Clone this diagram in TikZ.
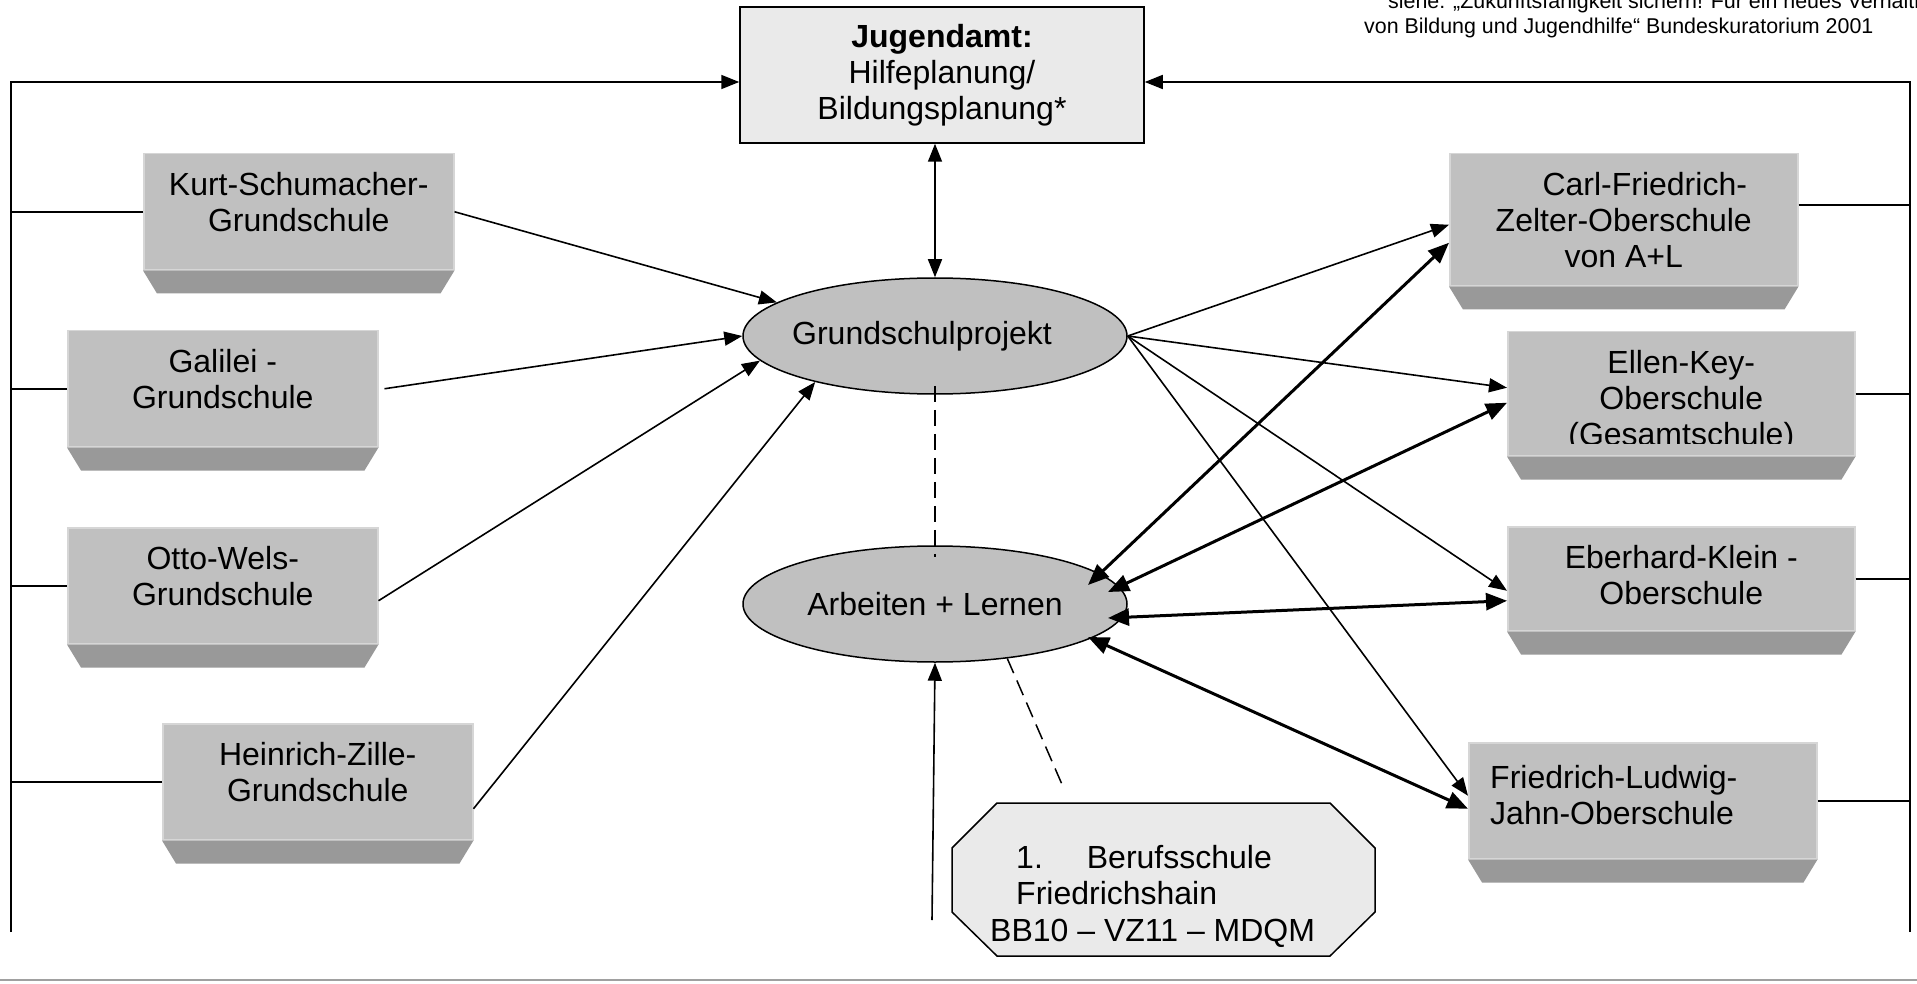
\documentclass[tikz,border=0pt]{standalone}
\usepackage{fontspec}
\setmainfont{Liberation Sans}
\usetikzlibrary{arrows.meta,shapes.geometric}
\definecolor{facegray}{RGB}{192,192,192}
\definecolor{facelight}{RGB}{214,214,214}
\definecolor{bandgray}{RGB}{153,153,153}
\definecolor{boxlight}{RGB}{234,234,234}
\definecolor{trenn}{RGB}{160,160,160}
\begin{document}
\begin{tikzpicture}[x=1pt,y=-1pt,
  face/.style={fill=facegray,draw=facelight,line width=1.5pt,inner sep=0pt},
  schrift/.style={font=\fontsize{32}{36}\selectfont,align=center,inner sep=0pt},
  oval/.style={ellipse,draw,line width=1.5pt,fill=facegray,minimum width=384,minimum height=116,inner sep=0pt,font=\fontsize{32}{36}\selectfont},
  linie/.style={line width=1.6pt},
  pfeil/.style={line width=1.6pt,-{Triangle[length=18pt,width=14pt]}},
  zpfeil/.style={line width=1.6pt,{Triangle[length=18pt,width=14pt]}-{Triangle[length=18pt,width=14pt]}},
  dpfeil/.style={line width=3pt,{Triangle[length=21pt,width=17pt]}-{Triangle[length=21pt,width=17pt]}},
  gestrichelt/.style={line width=1.5pt,dash pattern=on 16pt off 8pt}]
\clip (0,0) rectangle (1917,984);
\fill[white] (0,0) rectangle (1917,984);
% source note
\node[font=\fontsize{21.4}{25}\selectfont,align=left,anchor=north west,inner sep=0pt] (quelle) at (1364,-7)
  {\hspace*{24pt}siehe: „Zukunftsfähigkeit sichern! Für ein neues Verhältnis\\von Bildung und Jugendhilfe“ Bundeskuratorium 2001};
% Jugendamt
\node[schrift,draw,line width=1.5pt,fill=boxlight,minimum width=404,minimum height=136] (ja) at (942,75)
  {\textbf{Jugendamt:}\\Hilfeplanung/\\Bildungsplanung*};
% schools
\foreach \n/\x/\y/\w/\h/\t in {ks/143/153/310/116/{Kurt-Schumacher-\\Grundschule},
    gal/67/330/310/116/{Galilei -\\Grundschule},
    ow/67/527/310/116/{Otto-Wels-\\Grundschule},
    hz/162/723/310/116/{Heinrich-Zille-\\Grundschule},
    cfz/1449/153/348/132/{\hspace*{42pt}Carl-Friedrich-\\Zelter-Oberschule\\von A+L},
    ek/1507/331/347/124/{Ellen-Key-\\Oberschule\\(Gesamtschule)},
    ebk/1507/526/347/104/{Eberhard-Klein -\\Oberschule}}
  {\node[face,minimum width=\w,minimum height=\h,anchor=north west] (\n) at (\x,\y) {};
   \fill[bandgray] (\n.south west) -- (\n.south east) -- ([xshift=-14pt,yshift=-23pt]\n.south east) -- ([xshift=14pt,yshift=-23pt]\n.south west) -- cycle;
   \begin{scope}
     \clip (\n.north west) rectangle ([yshift=13pt]\n.south east);
     \node[schrift,anchor=north] (\n-t) at ([yshift=-19pt]\n.north) {\t};
   \end{scope}}
\node[face,minimum width=348,minimum height=116,anchor=north west] (flj) at (1468,742) {};
\fill[bandgray] (flj.south west) -- (flj.south east) -- ([xshift=-14pt,yshift=-23pt]flj.south east) -- ([xshift=14pt,yshift=-23pt]flj.south west) -- cycle;
\node[schrift,align=left,anchor=north west] (flj-t) at (1490,765) {Friedrich-Ludwig-\\Jahn-Oberschule};
% projects
\node[oval] (gp) at (935,336) {\makebox[0pt]{Grundschulprojekt\hspace*{26pt}}};
\node[oval] (al) at (935,604) {Arbeiten + Lernen};
% Berufsschule
\draw[line width=1.5pt,fill=boxlight] (997,803) -- (1330,803) -- (1375,848) -- (1375,912) -- (1330,956) -- (997,956) -- (952,912) -- (952,848) -- cycle;
\node[schrift,align=left,anchor=north west,font=\fontsize{32}{36.5}\selectfont] (bs) at (1016,845)
  {1.\hspace{44pt}Berufsschule\\Friedrichshain\\\hspace*{-26pt}BB10 – VZ11 – MDQM};
% frame lines
\coordinate (lu) at (11,932);
\coordinate (ru) at (1910,932);
\coordinate (zulauf) at (932,920);
\coordinate (bsoben) at (1064,789);
\draw[pfeil] (lu) |- ([yshift=-7pt]ja.west);
\draw[pfeil] (ru) |- ([yshift=-7pt]ja.east);
\foreach \n in {ks,gal,ow,hz} \draw[linie] (\n.west) -- (\n.west -| lu);
\foreach \n in {ek,ebk,flj} \draw[linie] (\n.east) -- (\n.east -| ru);
\draw[linie] ([yshift=15pt]cfz.east) -- ([yshift=15pt]cfz.east -| ru);
% connectors
\draw[zpfeil] (gp.north) -- (gp.north |- ja.south);
\draw[pfeil] (ks.east) -- (gp.168);
\draw[pfeil] ([xshift=6pt]gal.east) -- (gp.west);
\draw[pfeil] ([yshift=-15pt]ow.east) -- (gp.-172);
\draw[pfeil] ([yshift=-27pt]hz.east) -- (gp.-159);
\draw[pfeil] (gp.east) -- ([yshift=-5pt]cfz.west);
\draw[pfeil] (gp.east) -- ([yshift=6pt]ek.west);
\draw[pfeil] (gp.east) -- ([yshift=-12pt]ebk.west);
\draw[pfeil] (gp.east) -- ([yshift=5pt]flj.west);
\draw[dpfeil] ([xshift=153pt,yshift=19pt]al.center) -- ([yshift=-23pt]cfz.west);
\draw[dpfeil] ([xshift=173pt,yshift=12pt]al.center) -- ([yshift=-9pt]ek.west);
\draw[dpfeil] ([xshift=173pt,yshift=-14pt]al.center) -- ([yshift=-22pt]ebk.west);
\draw[dpfeil] ([xshift=153pt,yshift=-33pt]al.center) -- ([yshift=-8pt]flj.west);
\draw[pfeil] (zulauf) -- (al.south);
\draw[gestrichelt] ([yshift=9pt]gp.south) -- ([yshift=-12pt]al.north);
\draw[gestrichelt] (al.-37) -- (bsoben);
% bottom rule
\draw[trenn,line width=2.5pt] (0,980) -- (1917,980);
\end{tikzpicture}
\end{document}
